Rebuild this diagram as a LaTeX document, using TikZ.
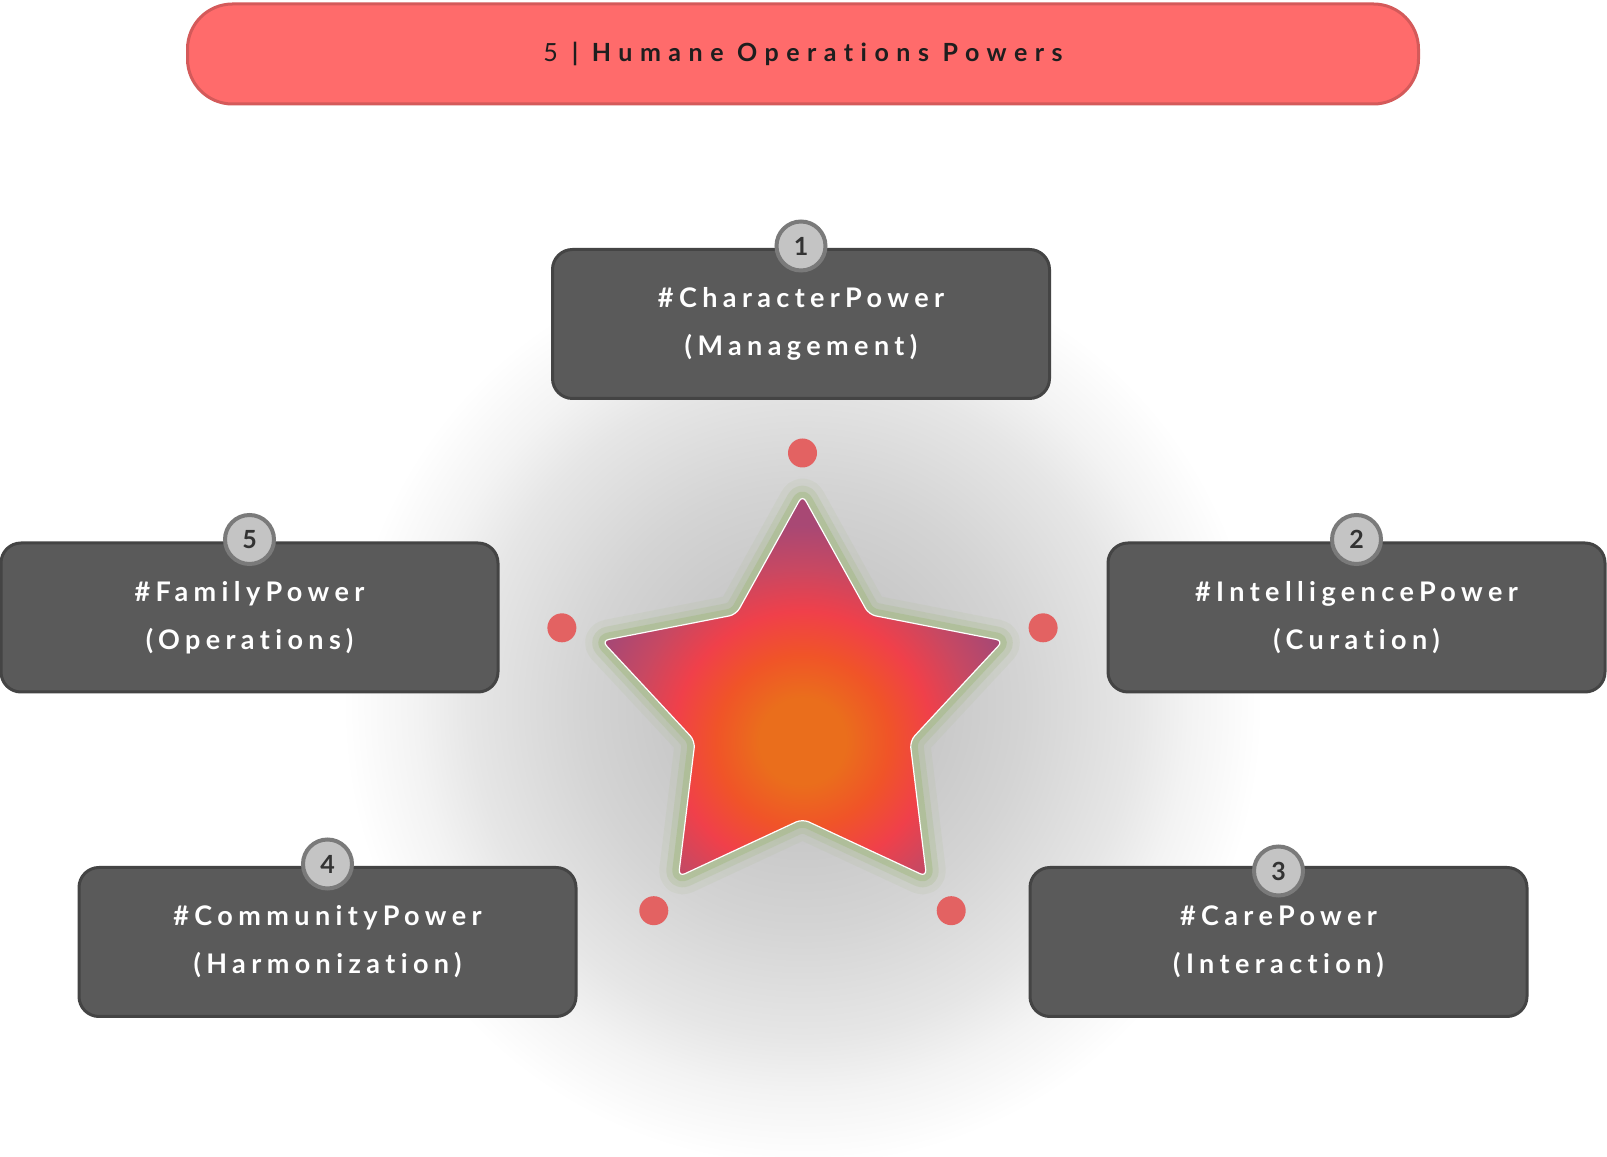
\documentclass[tikz,border=0pt]{standalone}
\usepackage{fontspec}
\setmainfont[Ligatures=NoCommon]{Lato}
\newfontfamily\boxfont[LetterSpace=20, Ligatures=NoCommon]{Lato}
\newfontfamily\titlefont[LetterSpace=30, Ligatures=NoCommon]{Lato}
\usepackage{xcolor}
\usepackage{tikz}
\usetikzlibrary{positioning, calc}

\definecolor{titlered}{HTML}{FF6B6B}
\definecolor{titleedge}{HTML}{D45A5A}
\definecolor{titleink}{HTML}{1E1E1E}
\definecolor{boxgray}{HTML}{5A5A5A}
\definecolor{boxedge}{HTML}{444444}
\definecolor{badgefill}{HTML}{C4C4C4}
\definecolor{badgeedge}{HTML}{7A7A7A}
\definecolor{numink}{HTML}{333333}
\definecolor{dotred}{HTML}{E36262}
\definecolor{glowgreen}{HTML}{A4BA84}
\definecolor{glowA}{HTML}{BFBFBF}
\definecolor{glowB}{HTML}{C6C6C6}
\definecolor{glowC}{HTML}{D4D4D4}
\definecolor{glowD}{HTML}{E6E6E6}
\definecolor{glowE}{HTML}{F3F3F3}
\definecolor{starorange}{HTML}{EA6E1C}
\definecolor{starorangered}{HTML}{F05428}
\definecolor{starred}{HTML}{F0404A}
\definecolor{starmauve}{HTML}{C84862}
\definecolor{starpurple}{HTML}{A84874}

\pgfdeclareradialshading{glowshade}{\pgfpoint{0bp}{0bp}}{color(0bp)=(glowA); color(6bp)=(glowB); color(12bp)=(glowC); color(18bp)=(glowD); color(21bp)=(glowE); color(25bp)=(white); color(50bp)=(white)}
\pgfdeclareradialshading{starfill}{\pgfpoint{0bp}{0bp}}{color(0bp)=(starorange); color(4bp)=(starorange); color(8bp)=(starorangered); color(12bp)=(starred); color(16bp)=(starmauve); color(20bp)=(starpurple); color(50bp)=(starpurple)}

\begin{document}
\begin{tikzpicture}[x=1pt, y=1pt,
  titlebar/.style={draw=titleedge, line width=3pt, fill=titlered, rounded corners=45pt,
    minimum width=1231pt, minimum height=100pt, inner sep=0pt, text=titleink,
    font=\titlefont\fontsize{25}{30}\selectfont},
  powerbox/.style={draw=boxedge, line width=3pt, fill=boxgray, rounded corners=20pt,
    minimum width=497pt, minimum height=149pt, inner sep=0pt, text=white, align=center,
    font=\boxfont\bfseries\fontsize{27}{48}\selectfont},
  badge/.style={circle, draw=badgeedge, line width=4pt, fill=badgefill, minimum size=49pt,
    inner sep=0pt, text=numink, font=\bfseries\fontsize{25}{25}\selectfont}]
  \useasboundingbox (0,0) rectangle (1607,1157);
  \fill[white] (0,0) rectangle (1607,1157);

  % Title
  \node[titlebar] (title) at (803,1103) {5 {\bfseries | Humane Operations Powers}};

  % Soft shadow behind the star
  \coordinate (S) at (802.5,451);
  \shade[shading=glowshade] (S) circle (460);

  % Star
  \def\rOut{211}
  \def\rIn{113}
  \def\starpath{(90:\rOut) -- (126:\rIn) -- (162:\rOut) -- (198:\rIn) -- (234:\rOut)
    -- (270:\rIn) -- (306:\rOut) -- (342:\rIn) -- (18:\rOut) -- (54:\rIn) -- cycle}
  \begin{scope}[shift={(S)}]
    \draw[glowgreen, line width=40pt, opacity=0.12, line join=round, rounded corners=7pt] \starpath;
    \draw[glowgreen, line width=26pt, opacity=0.25, line join=round, rounded corners=7pt] \starpath;
    \draw[glowgreen, line width=14pt, opacity=0.5, line join=round, rounded corners=7pt] \starpath;
    \begin{scope}
      \clip[rounded corners=7pt] \starpath;
      \shade[shading=starfill] (0,-35) circle (270);
    \end{scope}
    \draw[white, line width=1.2pt, rounded corners=7pt] \starpath;
    % Red dots round the star
    \foreach \a in {90,18,-54,-126,162}
      \fill[dotred] (\a:253) circle (14.5);
  \end{scope}

  % Power boxes
  \node[powerbox] (c1) at (801,833) {\#CharacterPower\\(Management)};
  \node[powerbox] (c2) at (1356.5,539.5) {\#IntelligencePower\\(Curation)};
  \node[powerbox] (c3) at (1278.5,215) {\#CarePower\\(Interaction)};
  \node[powerbox] (c4) at (327.5,215) {\#CommunityPower\\(Harmonization)};
  \node[powerbox] (c5) at (249.5,539.5) {\#FamilyPower\\(Operations)};

  % Number badges
  \node[badge] (b1) at ($(c1.north)+(0,2)$) {1};
  \node[badge] (b2) at ($(c2.north)+(0,2)$) {2};
  \node[badge] (b3) at ($(c3.north)+(0,-5)$) {3};
  \node[badge] (b4) at ($(c4.north)+(0,2)$) {4};
  \node[badge] (b5) at ($(c5.north)+(0,2)$) {5};
\end{tikzpicture}
\end{document}
